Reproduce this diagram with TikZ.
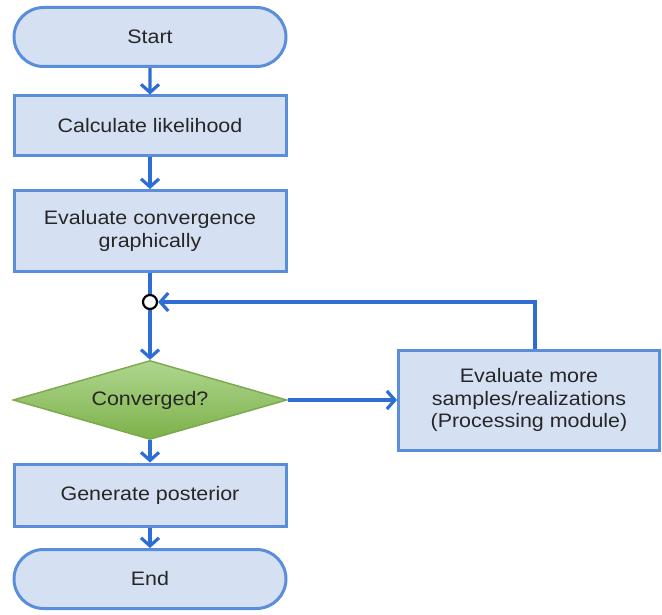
\documentclass[tikz,border=0pt]{standalone}
\usepackage{fontspec}
\setmainfont{Liberation Sans}[FakeStretch=1.1]
\usetikzlibrary{shapes.misc,shapes.geometric,arrows.meta}
\definecolor{boxfill}{HTML}{D5E1F3}
\definecolor{boxline}{HTML}{5A8EDA}
\definecolor{conn}{HTML}{2E6ED3}
\definecolor{txt}{HTML}{262626}
\definecolor{gtop}{HTML}{AFD68F}
\definecolor{gbot}{HTML}{7DB14A}
\definecolor{gline}{HTML}{7AA84C}
\tikzset{
  x={(1pt,0)}, y={(0,-1pt)},
  every node/.style={font=\fontsize{19.5}{22.5}\selectfont, text=txt, align=center},
  term/.style={rounded rectangle, draw=boxline, line width=3pt, fill=boxfill, minimum width=272pt, minimum height=59pt, inner sep=0pt},
  procbox/.style={rectangle, draw=boxline, line width=3pt, fill=boxfill, minimum width=272pt, inner sep=0pt},
  decision/.style={diamond, draw=gline, line width=1.4pt, top color=gtop, bottom color=gbot, minimum width=274pt, minimum height=79pt, aspect=3.47, inner sep=0pt},
  link/.style={draw=conn, line width=3.2pt},
  arr/.style={link, -{Straight Barb[length=8pt,width=18pt,line width=3.2pt]}},
  junction/.style={circle, draw=black, fill=white, line width=2.2pt, minimum size=14pt, inner sep=0pt},
}
\begin{document}
\begin{tikzpicture}
\useasboundingbox (0,0) rectangle (662,615);
\node[term] (start) at (150,37) {Start};
\node[procbox, minimum height=60pt] (calc) at (150,126) {Calculate likelihood};
\node[procbox, minimum height=81pt] (evalc) at (150,231) {Evaluate convergence\\graphically};
\node[junction] (junc) at (150,302) {};
\node[decision] (conv) at (150,400) {Converged?};
\node[procbox, minimum height=62pt] (post) at (150,495) {Generate posterior};
\node[term] (end) at (150,579) {End};
\node[procbox, minimum width=261pt, minimum height=100pt] (more) at (529,400) {Evaluate more\\samples/realizations\\(Processing module)};
\draw[arr] (start) -- (calc);
\draw[arr] (calc) -- (evalc);
\draw[link] (evalc) -- (junc);
\draw[arr] (junc) -- (conv);
\draw[arr] (conv) -- (post);
\draw[arr] (post) -- (end);
\draw[arr] (conv.east) -- (more.west);
\draw[arr] ([xshift=6pt]more.north) |- (junc.east);
\end{tikzpicture}
\end{document}
